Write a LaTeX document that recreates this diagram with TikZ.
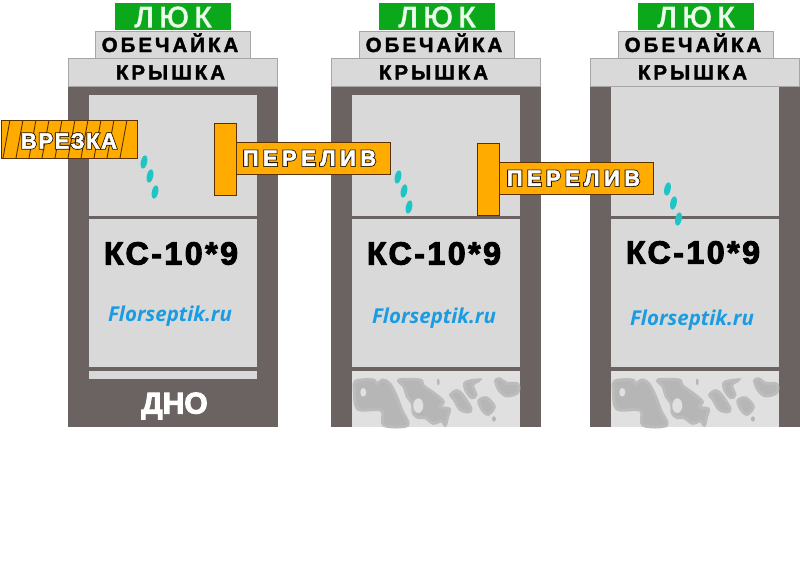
\documentclass[tikz,border=0pt]{standalone}
\usepackage{fontspec}
\setmainfont{Liberation Sans}
\newfontfamily\wideA[LetterSpace=20]{Liberation Sans}
\newfontfamily\wideB[LetterSpace=14.6]{Liberation Sans}
\newfontfamily\wideC[LetterSpace=8]{Liberation Sans}
\newfontfamily\wideP[LetterSpace=20]{Liberation Sans}
\newfontfamily\wideV[LetterSpace=7]{Liberation Sans}
\newfontfamily\siteFont{Open Sans}
\definecolor{wallc}{HTML}{6A6362}
\definecolor{innerc}{HTML}{D9D9D9}
\definecolor{edgec}{HTML}{A6A6A6}
\definecolor{hatchgreen}{HTML}{0CA81C}
\definecolor{pipec}{HTML}{FFAB00}
\definecolor{pipeedge}{HTML}{5A3000}
\definecolor{dropc}{HTML}{1FC4C4}
\definecolor{sitec}{HTML}{1A9CE2}
\definecolor{blobc}{HTML}{B6B6B6}
\definecolor{bedc}{HTML}{E0E0E0}
% text painted with a stroke: #1 width, #2 stroke colour (r g b)
\newcommand{\strk}[3]{\special{pdf:code 2 Tr #1 w #2 RG}#3\special{pdf:code 0 Tr 0 w 0 0 0 RG}}
% white letters on a dark outline
\newcommand{\edged}[1]{\rlap{\strk{2.2}{0.14 0.09 0}{#1}}\strk{0.5}{1 1 1}{#1}}
\tikzset{
  x=1pt,y=-1pt,
  lukbox/.style={fill=hatchgreen,minimum width=116pt,minimum height=27pt,inner sep=0,text=green!8!white,text height=21pt,text depth=0pt,font=\wideA\fontsize{29}{29}\selectfont},
  ringbox/.style={fill=innerc,draw=edgec,line width=1pt,minimum width=155pt,minimum height=27pt,inner sep=0,text height=15pt,text depth=0pt,font=\wideB\bfseries\fontsize{20.5}{20.5}\selectfont},
  coverbox/.style={fill=innerc,draw=edgec,line width=1pt,minimum width=209pt,minimum height=28pt,inner sep=0,text height=15pt,text depth=0pt,font=\wideB\bfseries\fontsize{20.5}{20.5}\selectfont},
  wall/.style={fill=wallc},
  chamber/.style={fill=innerc},
  pipebody/.style={fill=pipec,draw=pipeedge,line width=1pt,inner sep=0,text=white,text height=15.5pt,text depth=0pt,font=\wideP\bfseries\fontsize{22}{22}\selectfont},
  flange/.style={fill=pipec,draw=pipeedge,line width=1pt},
  dropmark/.style={fill=dropc},
  ksname/.style={font=\wideC\bfseries\fontsize{32}{32}\selectfont,inner sep=0,text height=23pt,text depth=0pt},
  sitename/.style={font=\siteFont\itshape\bfseries\fontsize{20.5}{20.5}\selectfont,text=sitec,inner sep=0},
  blob/.style={fill=blobc,draw=blobc!85!bedc,line width=3pt,smooth cycle,tension=0.55},
}
\newcommand{\bedblobs}{%
  \fill[bedc] (352,371) rectangle (520,427);
  \begin{scope}[x=0.3333pt,y=-0.3333pt,shift={(340*3,360*3)}]
  \filldraw[blob] plot coordinates {(47,64)(100,60)(108,72)(130,60)(150,72)(170,110)(185,150)(203,196)(132,196)(125,152)(62,150)(47,135)(44,100)};
  \fill[bedc] (70,97) ellipse [x radius=9,y radius=13];
  \filldraw[blob] plot coordinates {(177,60)(240,60)(250,77)(285,102)(310,125)(300,142)(328,147)(323,170)(316,196)(305,183)(280,190)(255,173)(235,173)(220,160)(217,130)(202,110)(192,80)};
  \fill[bedc] (235,137) ellipse [x radius=15,y radius=22];
  \filldraw[blob] plot coordinates {(332,105)(350,92)(368,105)(393,145)(385,156)(360,148)(342,118)};
  \filldraw[blob] plot coordinates {(377,67)(418,60)(398,75)(408,105)(395,113)(377,90)};
  \filldraw[blob] plot coordinates {(417,122)(440,114)(463,140)(445,163)(427,150)};
  \filldraw[blob] plot coordinates {(467,62)(480,57)(500,70)(533,72)(533,98)(500,108)(477,90)};
  \fill[blobc] (295,66) ellipse [x radius=4,y radius=10];
  \fill[blobc] (462,177) ellipse [x radius=6,y radius=8];
  \end{scope}}
\newcommand{\threedrops}[2]{%
  \fill[dropmark,rotate around={-12:(#1,#2)}] (#1,#2) ellipse [x radius=3.2,y radius=6.7];
  \fill[dropmark,rotate around={-12:(#1+6,#2+14)}] (#1+6,#2+14) ellipse [x radius=3.2,y radius=6.7];
  \fill[dropmark,rotate around={-12:(#1+11,#2+30)}] (#1+11,#2+30) ellipse [x radius=3.2,y radius=6.7];}
\newcommand{\lukt}{\strk{1}{0.9 0.96 0.9}{ЛЮК}}
\newcommand{\ringt}{\strk{0.4}{0 0 0}{ОБЕЧАЙКА}\hspace*{5pt}}
\newcommand{\covert}{\strk{0.4}{0 0 0}{КРЫШКА}\hspace*{5pt}}
\newcommand{\kst}{\strk{1}{0 0 0}{КС-10*9}}
\begin{document}
\begin{tikzpicture}
\useasboundingbox (0,0) rectangle (800,582);
\fill[white] (0,0) rectangle (800,582);
% well 1
\fill[wall] (68,86) rectangle (278,427);
\fill[chamber] (89,95) rectangle (257,216);
\fill[chamber] (89,219) rectangle (257,367);
\fill[chamber] (89,371) rectangle (257,379);
\node[lukbox] (luk1) at (173,16.5) {\lukt};
\node[ringbox] (ring1) at (172.5,44.5) {\ringt};
\node[coverbox] (cover1) at (173,72) {\covert};
\node[ksname] (ks1) at (171,253) {\kst};
\node[sitename] (site1) at (170,316) {Florseptik.ru};
\node[inner sep=0,text=white,text height=22pt,text depth=0pt,font=\bfseries\fontsize{30}{30}\selectfont] (bottom1) at (174.5,402.5) {\strk{1}{1 1 1}{ДНО}};
% well 2
\fill[wall] (331,86) rectangle (541,427);
\fill[chamber] (352,95) rectangle (520,216);
\fill[chamber] (352,219) rectangle (520,367);
\bedblobs
\node[lukbox] (luk2) at (437,16.5) {\lukt};
\node[ringbox] (ring2) at (436.5,44.5) {\ringt};
\node[coverbox] (cover2) at (436,72) {\covert};
\node[ksname] (ks2) at (434,253) {\kst};
\node[sitename] (site2) at (434,318) {Florseptik.ru};
% well 3
\fill[wall] (590,86) rectangle (800,427);
\fill[chamber] (611,86) rectangle (779,216);
\fill[chamber] (611,219) rectangle (779,367);
\begin{scope}[shift={(259,0)}]\bedblobs\end{scope}
\node[lukbox] (luk3) at (696,16.5) {\lukt};
\node[ringbox] (ring3) at (695.5,44.5) {\ringt};
\node[coverbox] (cover3) at (695,72) {\covert};
\node[ksname] (ks3) at (693,252) {\kst};
\node[sitename] (site3) at (692,320) {Florseptik.ru};
% inlet
\fill[pipec] (1,120) rectangle (137,158);
\foreach \hx in {3,16,29,42,55,68,81,94,107,120} {\draw[pipeedge,line width=0.9pt] (\hx,158) -- (\hx+7,120);}
\draw[pipeedge,line width=1pt] (1,120) rectangle (137,158);
\node[inner sep=0,text=white,text height=19pt,text depth=0pt,font=\wideV\bfseries\fontsize{22}{22}\selectfont] (inlet) at (69,139) {\edged{ВРЕЗКА}};
% overflow pipes
\draw[flange] (214,123) rectangle (236,195);
\node[pipebody,minimum width=154pt,minimum height=32pt] (over1) at (313,158) {\edged{ПЕРЕЛИВ}\hspace*{7pt}};
\draw[flange] (477,143) rectangle (499.5,215.5);
\node[pipebody,minimum width=154pt,minimum height=32pt] (over2) at (576.5,178) {\edged{ПЕРЕЛИВ}\hspace*{6pt}};
% drops
\threedrops{144}{162}
\threedrops{398}{177}
\threedrops{667.5}{189}
\end{tikzpicture}
\end{document}
